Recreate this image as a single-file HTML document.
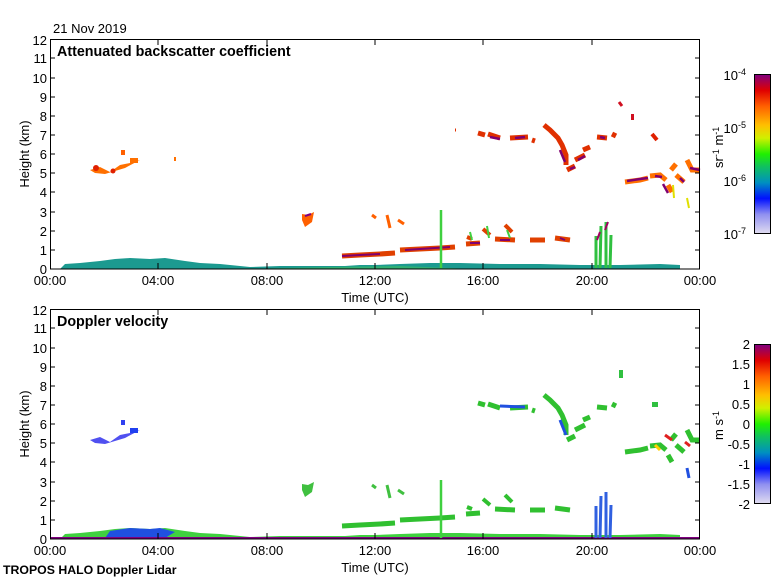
<!DOCTYPE html>
<html><head><meta charset="utf-8"><style>
body{margin:0;background:#fff;}
svg text{font-family:"Liberation Sans",sans-serif;font-size:13px;fill:#000;}
</style></head><body>
<svg width="780" height="580" viewBox="0 0 780 580" xmlns="http://www.w3.org/2000/svg">
<defs>
<linearGradient id="g1" x1="0" y1="1" x2="0" y2="0">
<stop offset="0" stop-color="#e0dcf0"/><stop offset="0.12" stop-color="#9090f0"/><stop offset="0.22" stop-color="#0010ff"/><stop offset="0.32" stop-color="#0090c0"/><stop offset="0.42" stop-color="#10c060"/><stop offset="0.5" stop-color="#20f000"/><stop offset="0.6" stop-color="#d0f000"/><stop offset="0.68" stop-color="#ffc000"/><stop offset="0.8" stop-color="#ff6000"/><stop offset="0.9" stop-color="#e00000"/><stop offset="1" stop-color="#800080"/>
</linearGradient>
</defs>
<rect width="780" height="580" fill="#fff"/>
<text x="53" y="33">21 Nov 2019</text>

<!-- TOP DATA -->
<g>
<polygon points="60,269 65,264 80,263 100,261 115,259 130,258 150,259 165,258 185,261 200,263 220,264 240,266 250,267 280,266 320,266 345,266 360,265 375,265 400,264 430,263 460,263 500,264 540,264 580,265 620,265 660,264 680,265 680,269" fill="#1c9a90"/>
<polygon points="240,269 330,267 400,266 450,268 470,269" fill="#40c060" opacity="0.6"/>
<path d="M90,170 L100,167 L110,172 L120,165 L130,163 L140,160 L125,168 L105,174 L95,173Z" fill="#ff7000"/>
<circle cx="96" cy="168" r="3" fill="#e02000"/><circle cx="113" cy="171" r="2.5" fill="#e02000"/>
<rect x="121" y="150" width="4" height="5" fill="#ff6000"/><rect x="130" y="158" width="8" height="5" fill="#ff7000"/>
<rect x="174" y="157" width="2" height="4" fill="#ff7000"/>
<path d="M302,214 L308,215 L314,212 L312,222 L305,227 L302,220Z" fill="#ff6000"/><path d="M305,216 L311,214" stroke="#800080" stroke-width="2"/>
<g stroke-width="5" fill="none">
<path d="M342,256 L360,255 L380,254 L395,253 M400,250 L420,249 L440,248 L455,247 M466,244 L480,243 M495,239 L515,240 M530,240 L545,240 M555,238 L570,240" stroke="#e04000"/>
<path d="M342,256 L360,255 L380,254 M405,250 L420,249 L450,247 M470,243 L480,243 M500,240 L510,240 M560,238 L565,240" stroke="#800070" stroke-width="2"/>
<path d="M467,237 L472,239 M483,229 L490,235 M505,225 L512,232" stroke="#e04000" stroke-width="4"/>
<path d="M470,232 L472,240 M487,226 L489,238 M507,230 L510,238" stroke="#40d040" stroke-width="2"/>
</g>
<path d="M372,215 L376,218 M387,215 L390,228 M398,220 L404,224" stroke="#ff6000" stroke-width="3"/>
<path d="M441,268 L441,210" stroke="#40d040" stroke-width="2.5"/>
<path d="M596,268 L596,236 M600,268 L601,226 M606,268 L606,222 M610,268 L611,235" stroke="#30c040" stroke-width="3"/>
<path d="M597,240 L600,232 M605,230 L608,222" stroke="#a00060" stroke-width="2"/>
<g fill="none" stroke-width="5">
<path d="M478,133 L485,135 M488,134 L500,138 M510,138 L528,137 M532,140 L535,141 M544,125 L550,130 L558,138 L562,145 L566,155 L566,165 M567,170 L575,166 M575,160 L585,155 M583,150 L590,147 M597,137 L607,138 M612,134 L616,136" stroke="#e03000"/>
<path d="M490,137 L500,139 M515,138 L525,137 M560,150 L565,162 M570,169 L575,167 M578,160 L585,156 M600,137 L605,138" stroke="#800070" stroke-width="2.5"/>
<path d="M455,130 L456,130 M462,134 L462,134" stroke="#e03000" stroke-width="3"/>
</g>
<path d="M619,102 L622,106" stroke="#d01020" stroke-width="3"/><rect x="631" y="114" width="3" height="6" fill="#d01020"/>
<path d="M652,134 L657,140" stroke="#e02000" stroke-width="4"/>
<path d="M625,182 L640,180 L648,178 M650,176 L660,175 L666,180 M668,185 L672,192 M671,170 L676,164 M676,175 L684,182 M687,160 L692,170 L700,170" stroke="#ff7000" stroke-width="5" fill="none"/>
<path d="M627,181 L640,179 L648,178 M655,176 L662,177 M663,184 L668,193 M690,168 L700,170 M680,178 L684,182" stroke="#800070" stroke-width="2.5" fill="none"/>
<path d="M687,198 L689,208 M673,185 L674,198" stroke="#e0e000" stroke-width="2"/>
</g>

<!-- BOTTOM DATA -->
<g transform="translate(0,270)">
<polygon points="60,269 65,264 80,263 100,261 115,259 130,258 150,259 165,258 185,261 200,263 220,264 240,266 250,267 280,266 320,266 345,266 360,265 375,265 400,264 430,263 460,263 500,264 540,264 580,265 620,265 660,264 680,265 680,269" fill="#40d040"/>
<polygon points="105,268 110,261 130,258 150,259 160,258 175,262 165,268" fill="#2050e0"/>
<rect x="50" y="267" width="650" height="2" fill="#800080"/>
<path d="M90,170 L100,167 L110,172 L120,165 L130,163 L140,160 L125,168 L105,174 L95,173Z" fill="#5050f0"/>
<rect x="121" y="150" width="4" height="5" fill="#3040f0"/><rect x="130" y="158" width="8" height="5" fill="#2040f0"/>
<path d="M302,214 L308,215 L314,212 L312,222 L305,227 L302,220Z" fill="#40c040"/>
<g stroke-width="5" fill="none" stroke="#30c030">
<path d="M342,256 L360,255 L380,254 L395,253 M400,250 L420,249 L440,248 L455,247 M466,244 L480,243 M495,239 L515,240 M530,240 L545,240 M555,238 L570,240"/>
<path d="M467,237 L472,239 M483,229 L490,235 M505,225 L512,232" stroke-width="4"/>
<path d="M478,133 L485,135 M488,134 L500,138 M510,138 L528,137 M532,140 L535,141 M544,125 L550,130 L558,138 L562,145 L566,155 L566,165 M567,170 L575,166 M575,160 L585,155 M583,150 L590,147 M597,137 L607,138 M612,134 L616,136"/>
<path d="M625,182 L640,180 L648,178 M650,176 L660,175 L666,180 M668,185 L672,192 M671,170 L676,164 M676,175 L684,182 M687,160 L692,170 L700,170"/>
</g>
<path d="M500,136 L525,137 M560,150 L566,165" stroke="#2050e0" stroke-width="3" fill="none"/>
<path d="M372,215 L376,218 M387,215 L390,228 M398,220 L404,224" stroke="#40c040" stroke-width="3"/>
<path d="M441,268 L441,210" stroke="#40d040" stroke-width="2.5"/>
<path d="M596,268 L596,236 M600,268 L601,226 M606,268 L606,222 M610,268 L611,235" stroke="#3060e0" stroke-width="3"/>
<rect x="619" y="100" width="4" height="8" fill="#30c040"/><rect x="652" y="132" width="6" height="5" fill="#30c040"/>
<path d="M665,165 L672,170 M685,172 L690,176" stroke="#e02020" stroke-width="3"/>
<path d="M655,175 L660,180" stroke="#ffd000" stroke-width="3"/>
<path d="M687,198 L689,208" stroke="#2050e0" stroke-width="3"/>
</g>

<!-- AXES -->
<g fill="none" stroke="#000" stroke-width="1">
<rect x="50.5" y="39.5" width="649" height="229.5"/>
<rect x="50.5" y="309.5" width="649" height="229.5"/>
<path d="M50,250h5M50,231h5M50,212h5M50,192h5M50,173h5M50,154h5M50,135h5M50,116h5M50,97h5M50,78h5M50,58h5
M700,250h-5M700,231h-5M700,212h-5M700,192h-5M700,173h-5M700,154h-5M700,135h-5M700,116h-5M700,97h-5M700,78h-5M700,58h-5
M158,269v-6M267,269v-6M375,269v-6M483,269v-6M592,269v-6M158,39v6M267,39v6M375,39v6M483,39v6M592,39v6"/>
<path transform="translate(0,270)" d="M50,250h5M50,231h5M50,212h5M50,192h5M50,173h5M50,154h5M50,135h5M50,116h5M50,97h5M50,78h5M50,58h5
M700,250h-5M700,231h-5M700,212h-5M700,192h-5M700,173h-5M700,154h-5M700,135h-5M700,116h-5M700,97h-5M700,78h-5M700,58h-5
M158,269v-6M267,269v-6M375,269v-6M483,269v-6M592,269v-6M158,39v6M267,39v6M375,39v6M483,39v6M592,39v6"/>
</g>
<g text-anchor="end">
<text x="47" y="274">0</text><text x="47" y="255">1</text><text x="47" y="236">2</text><text x="47" y="217">3</text><text x="47" y="197">4</text><text x="47" y="178">5</text><text x="47" y="159">6</text><text x="47" y="140">7</text><text x="47" y="121">8</text><text x="47" y="102">9</text><text x="47" y="83">10</text><text x="47" y="63">11</text><text x="47" y="45">12</text>
<text x="47" y="544">0</text><text x="47" y="525">1</text><text x="47" y="506">2</text><text x="47" y="487">3</text><text x="47" y="467">4</text><text x="47" y="448">5</text><text x="47" y="429">6</text><text x="47" y="410">7</text><text x="47" y="391">8</text><text x="47" y="372">9</text><text x="47" y="353">10</text><text x="47" y="333">11</text><text x="47" y="315">12</text>
</g>
<g text-anchor="middle">
<text x="50" y="285">00:00</text><text x="158" y="285">04:00</text><text x="267" y="285">08:00</text><text x="375" y="285">12:00</text><text x="483" y="285">16:00</text><text x="592" y="285">20:00</text><text x="700" y="285">00:00</text>
<text x="50" y="555">00:00</text><text x="158" y="555">04:00</text><text x="267" y="555">08:00</text><text x="375" y="555">12:00</text><text x="483" y="555">16:00</text><text x="592" y="555">20:00</text><text x="700" y="555">00:00</text>
<text x="375" y="302">Time (UTC)</text><text x="375" y="572">Time (UTC)</text>
<text transform="translate(29,154) rotate(-90)">Height (km)</text>
<text transform="translate(29,424) rotate(-90)">Height (km)</text>
</g>
<text x="57" y="56" style="font-weight:bold;font-size:14.3px">Attenuated backscatter coefficient</text>
<text x="57" y="326" style="font-weight:bold;font-size:14.3px">Doppler velocity</text>
<text x="3" y="574" style="font-weight:bold;font-size:12.3px">TROPOS HALO Doppler Lidar</text>

<rect x="754.5" y="74.5" width="16" height="159" fill="url(#g1)" stroke="#000"/>
<rect x="754.5" y="344.5" width="16" height="159" fill="url(#g1)" stroke="#000"/>
<g text-anchor="end">
<text x="746" y="80">10<tspan dy="-5" font-size="9">-4</tspan></text>
<text x="746" y="133">10<tspan dy="-5" font-size="9">-5</tspan></text>
<text x="746" y="186">10<tspan dy="-5" font-size="9">-6</tspan></text>
<text x="746" y="239">10<tspan dy="-5" font-size="9">-7</tspan></text>
<text x="750" y="349">2</text><text x="750" y="369">1.5</text><text x="750" y="389">1</text><text x="750" y="409">0.5</text><text x="750" y="429">0</text><text x="750" y="449">-0.5</text><text x="750" y="469">-1</text><text x="750" y="489">-1.5</text><text x="750" y="509">-2</text>
</g>
<text transform="translate(723,168) rotate(-90)">sr<tspan dy="-4" font-size="9">-1</tspan><tspan dy="4"> m</tspan><tspan dy="-4" font-size="9">-1</tspan></text>
<text transform="translate(723,440) rotate(-90)">m s<tspan dy="-4" font-size="9">-1</tspan></text>
</svg>
</body></html>
